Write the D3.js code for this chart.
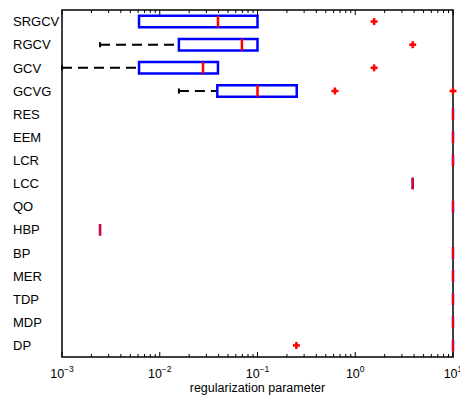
<!DOCTYPE html>
<html>
<head>
<meta charset="utf-8">
<script src="https://cdn.jsdelivr.net/npm/d3@7"></script>
<style>
  body { margin: 0; background: #fff; }
  text { font-family: "Liberation Sans", Arial, Helvetica, sans-serif; fill: #000; }
</style>
</head>
<body>
<svg width="460" height="403"></svg>
<script>
// methods, top to bottom
var categories = ["SRGCV", "RGCV", "GCV", "GCVG", "RES", "EEM", "LCR", "LCC", "QO", "HBP", "BP", "MER", "TDP", "MDP", "DP"];
// box statistics (regularization parameter)
var whiskerLow = [0.00614, 0.00245, 0.001, 0.0157, 10, 10, 10, 3.87, 10, 0.00245, 10, 10, 10, 10, 10];
var q1         = [0.00614, 0.0157, 0.00614, 0.0388, 10, 10, 10, 3.87, 10, 0.00245, 10, 10, 10, 10, 10];
var median     = [0.0394, 0.0693, 0.0277, 0.1, 10, 10, 10, 3.87, 10, 0.00245, 10, 10, 10, 10, 10];
var q3         = [0.1, 0.1, 0.0394, 0.252, 10, 10, 10, 3.87, 10, 0.00245, 10, 10, 10, 10, 10];
var whiskerHigh = [0.1, 0.1, 0.0394, 0.252, 10, 10, 10, 3.87, 10, 0.00245, 10, 10, 10, 10, 10];
var outliers = [[1.56], [3.87], [1.56], [0.62, 10], [], [], [], [], [], [], [], [], [], [], [0.25]];
var xTickExps = [-3, -2, -1, 0, 1];

(function() {
var svg = d3.select("svg");
var mL = 62, mR = 453, mT = 10, mB = 357;

var x = d3.scaleLog().domain([1e-3, 10]).range([mL, mR]);
var y = d3.scaleLinear().domain([0.5, categories.length + 0.5]).range([mT, mB]);

var rows = categories.map(function(c, i) {
  return { name: c, pos: i + 1, wl: whiskerLow[i], q1: q1[i], med: median[i], q3: q3[i], wh: whiskerHigh[i], out: outliers[i] };
});

// ticks top and bottom
var minor = x.ticks().filter(function(t) { return Math.abs(Math.log10(t) - Math.round(Math.log10(t))) > 1e-6; });
var major = xTickExps.map(function(e) { return Math.pow(10, e); });
var tk = svg.append("g").attr("stroke", "#000").attr("stroke-width", 1);
minor.forEach(function(t) {
  tk.append("line").attr("x1", x(t)).attr("x2", x(t)).attr("y1", mB).attr("y2", mB - 3);
  tk.append("line").attr("x1", x(t)).attr("x2", x(t)).attr("y1", mT).attr("y2", mT + 3);
});
major.forEach(function(t) {
  tk.append("line").attr("x1", x(t)).attr("x2", x(t)).attr("y1", mB).attr("y2", mB - 5);
  tk.append("line").attr("x1", x(t)).attr("x2", x(t)).attr("y1", mT).attr("y2", mT + 5);
});

// frame
svg.append("rect").attr("x", mL).attr("y", mT).attr("width", mR - mL).attr("height", mB - mT)
  .attr("fill", "none").attr("stroke", "#000").attr("stroke-width", 1.5);

// tick labels
xTickExps.forEach(function(e) {
  var t = svg.append("text").attr("x", x(Math.pow(10, e))).attr("y", 378)
    .attr("text-anchor", "middle").attr("font-size", 12.5);
  t.append("tspan").text("10");
  t.append("tspan").attr("dy", -6).attr("font-size", 8.5).text(e < 0 ? "\u2212" + (-e) : String(e));
});

svg.append("text").attr("x", (mL + mR) / 2).attr("y", 392).attr("text-anchor", "middle")
  .attr("font-size", 12.5).text("regularization parameter");

// category labels
svg.selectAll("text.cat").data(rows).enter().append("text").attr("class", "cat")
  .attr("x", 13).attr("y", function(d) { return y(d.pos); }).attr("dy", "0.36em")
  .attr("font-size", 13).text(function(d) { return d.name; });

var hw = 0.25;
var g = svg.selectAll("g.box").data(rows).enter().append("g").attr("class", "box");

// whiskers
g.filter(function(d) { return d.wl < d.q1; }).each(function(d) {
  var s = d3.select(this);
  s.append("line").attr("x1", x(d.wl)).attr("x2", x(d.q1)).attr("y1", y(d.pos)).attr("y2", y(d.pos))
    .attr("stroke", "#000").attr("stroke-width", 2).attr("stroke-dasharray", "10,6");
  s.append("line").attr("x1", x(d.wl)).attr("x2", x(d.wl)).attr("y1", y(d.pos) - 2.5).attr("y2", y(d.pos) + 2.5)
    .attr("stroke", "#000").attr("stroke-width", 2);
});
g.filter(function(d) { return d.wh > d.q3; }).each(function(d) {
  var s = d3.select(this);
  s.append("line").attr("x1", x(d.q3)).attr("x2", x(d.wh)).attr("y1", y(d.pos)).attr("y2", y(d.pos))
    .attr("stroke", "#000").attr("stroke-width", 2).attr("stroke-dasharray", "10,6");
  s.append("line").attr("x1", x(d.wh)).attr("x2", x(d.wh)).attr("y1", y(d.pos) - 2.5).attr("y2", y(d.pos) + 2.5)
    .attr("stroke", "#000").attr("stroke-width", 2);
});

// boxes (path so collapsed boxes still show)
g.append("path")
  .attr("d", function(d) {
    var x0 = x(d.q1), x1 = x(d.q3), y0 = y(d.pos - hw), y1 = y(d.pos + hw);
    return "M" + x0 + "," + y0 + "H" + x1 + "V" + y1 + "H" + x0 + "Z";
  })
  .attr("fill", "none").attr("stroke", "#0000ff").attr("stroke-width", 2.5)
  .attr("stroke-linejoin", "miter");

// medians
g.append("line")
  .attr("x1", function(d) { return x(d.med); }).attr("x2", function(d) { return x(d.med); })
  .attr("y1", function(d) { return y(d.pos - hw); }).attr("y2", function(d) { return y(d.pos + hw); })
  .attr("stroke", "#ff0000").attr("stroke-width", function(d) { return d.q1 === d.q3 ? 2 : 2.5; });

// outliers
var pts = [];
rows.forEach(function(d) { d.out.forEach(function(v) { pts.push({ v: v, pos: d.pos }); }); });
var o = svg.selectAll("g.out").data(pts).enter().append("g").attr("class", "out")
  .attr("transform", function(d) { return "translate(" + x(d.v) + "," + y(d.pos) + ")"; });
o.append("line").attr("x1", -3.5).attr("x2", 3.5).attr("stroke", "#ff0000").attr("stroke-width", 2.5);
o.append("line").attr("y1", -3.5).attr("y2", 3.5).attr("stroke", "#ff0000").attr("stroke-width", 2.5);
})();
</script>
</body>
</html>
